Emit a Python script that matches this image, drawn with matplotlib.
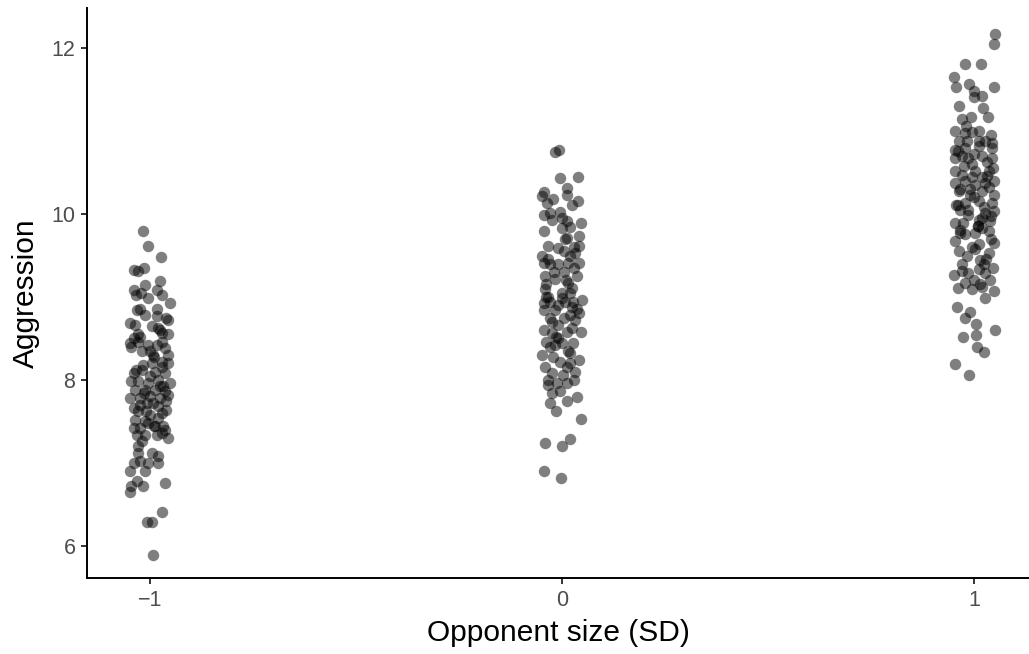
import numpy as np
import matplotlib.pyplot as plt

# opponent size groups (SD) and tick labels
groups = [-1, 0, 1]
x_tick_labels = ['\u22121', '0', '1']
y_ticks = [6, 8, 10, 12]

# horizontal jitter (SD units) and aggression for each point
jit_m1 = [-0.017, -0.004, 0.026, -0.038, -0.028, -0.015, -0.012, 0.024, -0.040, -0.034,
          0.016, 0.028, -0.004, 0.049, -0.032, -0.024, -0.012, 0.016, 0.040, 0.044,
          -0.049, -0.036, 0.004, 0.020, 0.028, 0.044, -0.040, -0.024,
          -0.049, -0.028, -0.004, 0.016, 0.028, 0.044, -0.016, 0.004, 0.028, 0.044,
          -0.040, 0.012, 0.036, -0.045, -0.028, -0.004, 0.020, 0.049, -0.036, -0.012,
          0.012, 0.036, -0.049, -0.024, 0.000, 0.024, 0.044, -0.024, 0.020, 0.040,
          -0.028, 0.000, 0.028, -0.036, -0.012, 0.020, -0.040, -0.024, 0.032, 0.036,
          -0.032, -0.012, 0.016, 0.044, -0.028, 0.004, 0.020,
          -0.040, -0.024, -0.004, 0.020, -0.049, -0.012, -0.032, -0.045, -0.016, -0.049,
          0.036, 0.028, -0.007, 0.005, 0.007,
          0.008, -0.020, 0.032, -0.008, 0.010, -0.030, 0.024, 0.000,
          -0.045, -0.020, 0.010, 0.030, -0.035, 0.000, 0.025, -0.015, 0.040, -0.040,
          0.008, -0.006, 0.030, -0.020, 0.012, -0.030, 0.018, -0.022, 0.036, -0.010]
agg_m1 = [9.79, 9.61, 9.48, 9.32, 9.31, 9.35, 9.14, 9.19, 9.08, 9.02,
          9.08, 9.02, 8.98, 8.92, 8.84, 8.85, 8.78, 8.77, 8.74, 8.72,
          8.68, 8.66, 8.65, 8.62, 8.56, 8.55, 8.50, 8.52,
          8.44, 8.46, 8.42, 8.42, 8.46, 8.30, 8.18, 8.20, 8.22, 8.20,
          8.08, 8.10, 8.08, 7.98, 7.98, 7.96, 8.00, 7.96, 7.88, 7.88,
          7.88, 7.86, 7.78, 7.78, 7.80, 7.78, 7.82, 7.70, 7.68, 7.64,
          7.62, 7.58, 7.60, 7.52, 7.50, 7.54, 7.42, 7.42, 7.44, 7.40,
          7.34, 7.34, 7.34, 7.30, 7.12, 7.12, 7.08,
          7.00, 7.02, 7.00, 7.00, 6.90, 6.90, 6.78, 6.72, 6.72, 6.65,
          6.76, 6.41, 6.29, 6.29, 5.89,
          8.30, 8.12, 7.92, 7.72, 7.45, 7.20, 8.60, 8.35,
          8.40, 8.35, 8.28, 8.15, 8.12, 8.05, 7.92, 7.84, 7.74, 7.66,
          7.72, 7.48, 7.36, 7.26, 7.44, 8.55, 8.85, 9.05, 8.38, 7.62]

jit_0 = [-0.017, -0.007, -0.006, 0.038, 0.013, -0.045, -0.049, 0.012, -0.021, -0.037,
         0.038, -0.045, -0.029, -0.006, -0.025, 0.012, 0.045, -0.001, -0.045, 0.019,
         0.040, 0.012, -0.033, -0.009, 0.040, -0.049, 0.019, 0.032,
         -0.045, -0.009, 0.015, 0.040, -0.041, -0.017, 0.015, 0.036, -0.041, 0.023,
         -0.001, 0.048, -0.045, -0.029, 0.007, 0.027, -0.045, -0.017, 0.040, 0.019,
         -0.025, -0.009, 0.032, -0.045, -0.025, 0.012, 0.045, -0.017, -0.029, -0.001,
         0.027, -0.049, -0.021, 0.019, 0.040, -0.041, 0.012, 0.032, -0.025, 0.003,
         -0.033, -0.013, 0.012, -0.025, -0.005, -0.029, 0.012, 0.036, -0.015, 0.046,
         -0.041, -0.001, 0.019, -0.044, -0.002,
         0.005, -0.035, 0.025, -0.010, 0.030, -0.030, 0.000, 0.020, -0.040, 0.008,
         -0.035, 0.005, 0.030, -0.020, 0.010, -0.040, 0.020, -0.010, 0.035, -0.030,
         0.005, 0.025, -0.015, -0.040, 0.015, -0.005, 0.030, -0.035, 0.000, 0.025]
agg_0 = [10.74, 10.77, 10.43, 10.44, 10.31, 10.26, 10.21, 10.23, 10.18, 10.13,
         10.15, 9.98, 10.01, 10.02, 9.93, 9.91, 9.89, 9.83, 9.79, 9.84,
         9.73, 9.71, 9.61, 9.59, 9.61, 9.49, 9.49, 9.53,
         9.41, 9.39, 9.41, 9.41, 9.25, 9.21, 9.17, 9.25, 9.09, 9.10,
         9.04, 8.96, 8.92, 8.94, 8.94, 8.94, 8.84, 8.84, 8.80, 8.78,
         8.70, 8.66, 8.72, 8.60, 8.56, 8.58, 8.58, 8.42, 8.40, 8.44,
         8.44, 8.30, 8.28, 8.32, 8.24, 8.16, 8.16, 8.10, 8.08, 8.06,
         7.94, 7.96, 7.96, 7.84, 7.86, 7.72, 7.75, 7.79, 7.62, 7.53,
         7.24, 7.20, 7.29, 6.90, 6.82,
         9.30, 9.00, 8.88, 8.50, 9.60, 9.40, 8.98, 8.20, 9.15, 9.70,
         9.45, 9.55, 9.35, 9.30, 9.20, 9.00, 9.05, 8.90, 8.85, 8.75,
         8.75, 8.62, 8.52, 8.45, 8.35, 8.22, 8.00, 8.00, 9.95, 10.10]

jit_1 = [0.051, 0.049, -0.022, 0.016, -0.048, -0.044, -0.012, 0.000, 0.047, 0.000,
         0.019, -0.036, 0.022, -0.030, -0.008, 0.033, -0.046, -0.022, -0.006, 0.011,
         -0.038, -0.018, 0.011, 0.027, 0.043,
         -0.046, -0.022, 0.011, 0.043, -0.046, -0.014, 0.019, 0.043, -0.046, -0.030,
         0.003, 0.035, -0.046, -0.022, 0.003, 0.027, 0.047, -0.038, -0.010, 0.019,
         0.047, -0.022, 0.011, 0.043, -0.014, 0.027, 0.047, -0.046, -0.026, 0.011,
         0.039, 0.019, -0.034, -0.022, 0.003, 0.035, -0.046, 0.011, 0.047, -0.038,
         0.003, 0.035, -0.018, 0.015,
         -0.050, -0.030, -0.014, 0.011, 0.027, 0.039, -0.022, -0.006, 0.027, 0.047,
         0.015, -0.042, -0.010, -0.022, 0.004, 0.051, 0.004, -0.028, 0.008, 0.024,
         -0.046, -0.012,
         -0.005, 0.030, -0.035, 0.020, -0.010, 0.040, -0.030, 0.010, -0.040, 0.025,
         -0.040, 0.000, 0.030, -0.025, 0.045, -0.005, 0.020, -0.035, 0.035, 0.000,
         -0.045, 0.025, -0.015, 0.040, -0.035, 0.010, -0.005, 0.028, -0.030, 0.045,
         0.000, -0.040, 0.020, 0.040, -0.020]
agg_1 = [12.16, 12.04, 11.80, 11.80, 11.64, 11.52, 11.56, 11.48, 11.53, 11.41,
         11.42, 11.30, 11.27, 11.14, 11.17, 11.17, 10.99, 10.97, 10.98, 10.99,
         10.87, 10.87, 10.87, 10.87, 10.85,
         10.77, 10.79, 10.81, 10.79, 10.67, 10.67, 10.69, 10.67, 10.51, 10.47,
         10.51, 10.51, 10.37, 10.39, 10.35, 10.37, 10.39, 10.27, 10.23, 10.27,
         10.23, 10.13, 10.15, 10.13, 9.99, 10.01, 10.03, 9.89, 9.89, 9.93,
         9.91, 9.83, 9.77, 9.75, 9.77, 9.79, 9.67, 9.63, 9.65, 9.55,
         9.57, 9.53, 9.49, 9.44,
         9.26, 9.31, 9.29, 9.33, 9.29, 9.20, 9.16, 9.09, 8.98, 9.07,
         9.15, 8.88, 8.82, 8.74, 8.67, 8.60, 8.54, 8.51, 8.39, 8.33,
         8.19, 8.06,
         10.60, 10.45, 10.05, 9.95, 10.30, 9.70, 10.70, 9.85, 10.10, 9.40,
         10.75, 10.72, 10.62, 10.58, 10.55, 10.44, 10.44, 10.30, 10.32, 10.20,
         10.10, 10.08, 10.05, 9.97, 9.80, 9.85, 9.60, 9.45, 9.40, 9.35,
         9.20, 9.10, 9.12, 10.95, 11.05]

plt.rcParams['font.family'] = ['Liberation Sans', 'DejaVu Sans']

fig = plt.figure(figsize=(10.29, 6.54), dpi=100)
ax = fig.add_axes([0.0845, 0.1162, 0.9155, 0.872])

for g, jit, agg in zip(groups, [jit_m1, jit_0, jit_1], [agg_m1, agg_0, agg_1]):
    ax.scatter(g + np.array(jit), agg, s=68, color='black', alpha=0.5,
               linewidths=0, zorder=3)

ax.set_xlim(-1.153, 1.133)
ax.set_ylim(5.614, 12.48)
ax.set_xticks(groups)
ax.set_xticklabels(x_tick_labels)
ax.set_yticks(y_ticks)

for side in ['top', 'right']:
    ax.spines[side].set_visible(False)
for side in ['left', 'bottom']:
    ax.spines[side].set_linewidth(1.4)
    ax.spines[side].set_color('black')

ax.tick_params(axis='both', length=4.3, width=1.4, color='#333333',
               labelsize=15.5, labelcolor='#4D4D4D', pad=4)

ax.set_xlabel('Opponent size (SD)', fontsize=21.5, color='black', labelpad=6)
ax.set_ylabel('Aggression', fontsize=21.5, color='black', labelpad=8)

fig.savefig('out.png', dpi=100)
